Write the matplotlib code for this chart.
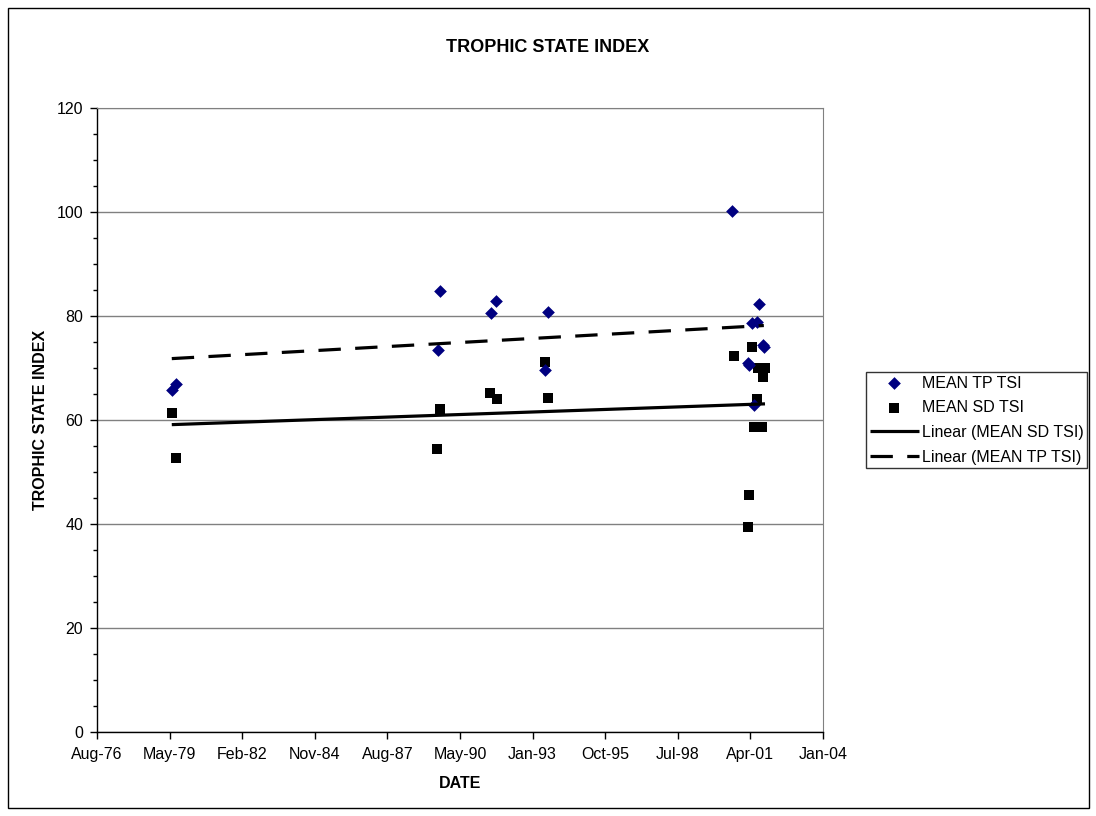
import matplotlib
matplotlib.use("Agg")
import matplotlib.pyplot as plt
import matplotlib.dates as mdates
from matplotlib.patches import Rectangle
from matplotlib.ticker import FixedLocator, MultipleLocator
import numpy as np
import pandas as pd

plt.rcParams['font.family'] = ['Liberation Sans', 'DejaVu Sans']

# Excel-style day serials
tp_days = [29030, 29095, 32697, 32725, 33423, 33500, 34167, 34208, 36751,
           36971, 36975, 37026, 37056, 37095, 37118, 37170, 37185]
tp_vals = [65.8, 66.9, 73.5, 84.8, 80.6, 82.9, 69.7, 80.7, 100.1,
           71.0, 70.5, 78.7, 62.9, 78.8, 82.4, 74.4, 74.0]

sd_days = [29030, 29085, 32690, 32725, 33413, 33510, 34167, 34208, 36774,
           36967, 36981, 37018, 37052, 37088, 37105, 37160, 37178, 37201]
sd_vals = [61.3, 52.6, 54.4, 62.2, 65.2, 64.0, 71.2, 64.3, 72.4,
           39.4, 45.6, 74.1, 58.6, 64.0, 70.0, 58.6, 68.3, 70.0]

x_tick_days = [28000, 29000, 30000, 31000, 32000, 33000, 34000, 35000, 36000, 37000, 38000]
y_ticks = [0, 20, 40, 60, 80, 100, 120]

EPOCH = pd.Timestamp('1899-12-30')
def to_num(days):
    return mdates.date2num([(EPOCH + pd.Timedelta(days=int(d))).to_pydatetime() for d in days])

tp_x = to_num(tp_days)
sd_x = to_num(sd_days)
xt = to_num(x_tick_days)

FS = 11.5

fig = plt.figure(figsize=(10.96, 8.16), dpi=100)
ax = fig.add_axes([97/1096, 1-732/816, (823-97)/1096, (732-108)/816])

# outer chart border
fig.patches.append(Rectangle((8/1096, 8/816), (1089-8)/1096, (808-8)/816,
                             transform=fig.transFigure, fill=False,
                             edgecolor='black', linewidth=1.0))

ax.scatter(tp_x, tp_vals, marker='D', s=42, color='#000080', zorder=4,
           label='MEAN TP TSI', linewidths=0)
ax.scatter(sd_x, sd_vals, marker='s', s=62, color='black', zorder=3,
           label='MEAN SD TSI', linewidths=0)

# linear trendlines (least squares)
sd_fit = np.polyfit(sd_days, sd_vals, 1)
tp_fit = np.polyfit(tp_days, tp_vals, 1)
sd_line_d = np.array([min(sd_days), max(sd_days)])
tp_line_d = np.array([min(tp_days), max(tp_days)])
ax.plot(to_num(sd_line_d), np.polyval(sd_fit, sd_line_d), color='black', lw=2.3,
        zorder=5, label='Linear (MEAN SD TSI)', solid_capstyle='butt')
ax.plot(to_num(tp_line_d), np.polyval(tp_fit, tp_line_d), color='black', lw=2.3,
        zorder=5, dashes=(7, 4.5), label='Linear (MEAN TP TSI)', dash_capstyle='butt')

ax.set_xlim(xt[0], xt[-1])
ax.set_ylim(0, 120)
ax.xaxis.set_major_locator(FixedLocator(xt))
ax.xaxis.set_major_formatter(mdates.DateFormatter('%b-%y'))
ax.yaxis.set_major_locator(FixedLocator(y_ticks))
ax.yaxis.set_minor_locator(MultipleLocator(5))

ax.grid(axis='y', which='major', color='#808080', linewidth=1.0, zorder=0)
ax.set_axisbelow(True)
for s in ['top', 'right']:
    ax.spines[s].set_color('#808080')
for s in ['left', 'bottom']:
    ax.spines[s].set_color('black')
    ax.spines[s].set_linewidth(1.0)

ax.tick_params(axis='both', which='major', direction='out', length=5, width=1,
               labelsize=FS, colors='black')
ax.tick_params(axis='y', which='minor', direction='out', length=3, width=1)
ax.tick_params(axis='x', pad=6)
ax.tick_params(axis='y', pad=5)

ax.set_xlabel('DATE', fontsize=FS, fontweight='bold')
ax.set_ylabel('TROPHIC STATE INDEX', fontsize=FS, fontweight='bold')
ax.xaxis.set_label_coords(0.5, (732-783)/624)
ax.xaxis.label.set_va('center')
ax.yaxis.set_label_coords((41-97)/726, 0.5)
ax.yaxis.label.set_va('center')

fig.text(548/1096, 1-47/816, 'TROPHIC STATE INDEX', ha='center', va='center',
         fontsize=13, fontweight='bold')

leg = fig.legend(loc='upper left', bbox_to_anchor=(866/1096, 1-372/816),
                 frameon=True, fancybox=False, edgecolor='black', fontsize=FS,
                 handlelength=3.1, handletextpad=0.2, borderpad=0.22,
                 labelspacing=0.61, borderaxespad=0)
leg.get_frame().set_linewidth(1.0)

fig.savefig('out.png', dpi=100, facecolor='white')
